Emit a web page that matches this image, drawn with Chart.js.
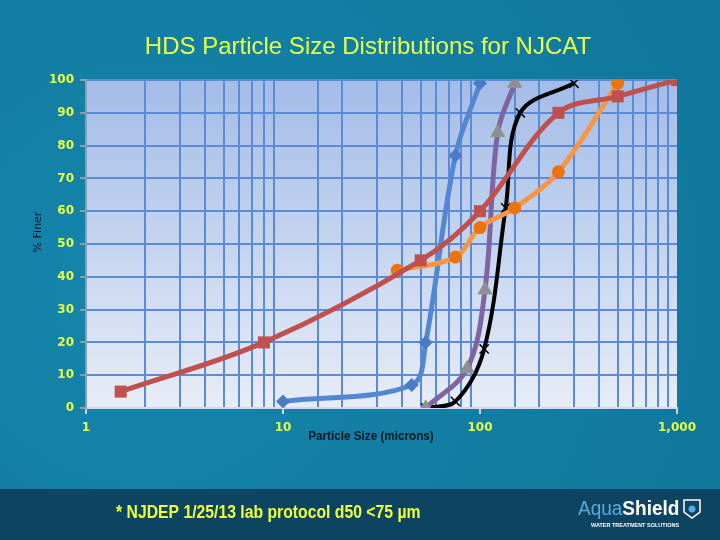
<!DOCTYPE html>
<html>
<head>
<meta charset="utf-8">
<script src="https://cdn.jsdelivr.net/npm/chart.js@4"></script>
<style>
  html, body { margin: 0; padding: 0; background: #127a9f; }
  #wrap { width: 720px; height: 540px; }
</style>
</head>
<body>
<div id="wrap"><canvas id="psd" width="720" height="540"></canvas></div>
<script>
// ---------------- data ----------------
const blueSize = [10, 45, 53, 75, 100];
const blueFiner = [2, 7, 20, 77, 99];

const redSize = [1.5, 8, 50, 100, 250, 500, 1000];
const redFiner = [5, 20, 45, 60, 90, 95, 100];

const purpleSize = [53, 86, 106, 123, 150];
const purpleFiner = [0, 12, 36, 84, 99];

const blackSize = [53, 75, 105, 135, 160, 300];
const blackFiner = [0, 2, 18, 61, 90, 99];

const orangeSize = [38, 75, 100, 150, 250, 500];
const orangeFiner = [42, 46, 55, 61, 72, 99];

const xLabels = [1, 10, 100, 1000];
const yTicks = [0, 10, 20, 30, 40, 50, 60, 70, 80, 90, 100];

//---------------------- helpers -----------------------//
function toPoints(xs, ys) {
    return xs.map((x, i) => ({ x: x, y: ys[i] }));
}

const gridBlue = '#5b8bd5';
const tickYellow = '#e6ff45';

// draw text squeezed horizontally to fake a condensed face
function squeezed(ctx, text, x, y, sx, align) {
    ctx.save();
    ctx.translate(x, y);
    ctx.scale(sx, 1);
    ctx.textAlign = align;
    ctx.fillText(text, 0, 0);
    ctx.restore();
}

// slide background + plot gradient
const slideBg = {
    id: 'slideBg',
    beforeDraw(chart) {
        const ctx = chart.ctx;
        const a = chart.chartArea;
        ctx.save();
        let bg = ctx.createRadialGradient(120, 300, 20, 200, 280, 520);
        bg.addColorStop(0, '#1585ab');
        bg.addColorStop(1, '#11789d');
        ctx.fillStyle = bg;
        ctx.fillRect(0, 0, 720, 540);
        // dark band at the bottom
        ctx.fillStyle = '#0c4462';
        ctx.fillRect(0, 489, 720, 51);
        // plot area
        let g = ctx.createLinearGradient(0, a.top, 0, a.bottom);
        g.addColorStop(0, '#a3bce7');
        g.addColorStop(1, '#e7edf7');
        ctx.fillStyle = g;
        ctx.fillRect(a.left, a.top, a.right - a.left, a.bottom - a.top);
        ctx.restore();
    }
};

// texts around the chart
const slideText = {
    id: 'slideText',
    afterDraw(chart) {
        const ctx = chart.ctx;
        ctx.save();
        ctx.textBaseline = 'middle';

        ctx.fillStyle = '#e8ff4a';
        ctx.textAlign = 'center';
        ctx.font = '24px "Liberation Sans", Arial, sans-serif';
        ctx.fillText('HDS Particle Size Distributions for NJCAT', 368, 47);

        ctx.fillStyle = '#101820';
        ctx.font = 'bold 13px "Liberation Sans", sans-serif';
        squeezed(ctx, 'Particle Size (microns)', 371, 436, 0.9, 'center');

        ctx.save();
        ctx.translate(38, 232);
        ctx.rotate(-Math.PI / 2);
        ctx.textAlign = 'center';
        ctx.font = '11px "DejaVu Sans", sans-serif';
        ctx.fillText('% Finer', 0, 0);
        ctx.restore();

        ctx.fillStyle = '#eeff3c';
        ctx.font = 'bold 18px "Liberation Sans", sans-serif';
        squeezed(ctx, '* NJDEP 1/25/13 lab protocol d50 <75 \u00b5m', 116, 513, 0.875, 'left');

        // logo text
        ctx.textAlign = 'left';
        ctx.font = '20px "Liberation Sans", sans-serif';
        ctx.fillStyle = '#5aa8de';
        ctx.save();
        ctx.translate(578, 509);
        ctx.scale(0.95, 1);
        ctx.fillText('Aqua', 0, 0);
        let w = ctx.measureText('Aqua').width;
        ctx.font = 'bold 20px "Liberation Sans", sans-serif';
        ctx.fillStyle = '#ffffff';
        ctx.fillText('Shield', w, 0);
        ctx.restore();
        // small shield mark
        ctx.strokeStyle = '#ffffff';
        ctx.lineWidth = 1.5;
        ctx.beginPath();
        ctx.moveTo(684, 500);
        ctx.lineTo(700, 500);
        ctx.lineTo(700, 512);
        ctx.lineTo(692, 518);
        ctx.lineTo(684, 512);
        ctx.closePath();
        ctx.stroke();
        ctx.fillStyle = '#5aa8de';
        ctx.beginPath();
        ctx.arc(692, 509, 3.5, 0, Math.PI * 2);
        ctx.fill();
        ctx.fillStyle = '#ffffff';
        ctx.font = 'bold 5.5px "Liberation Sans", sans-serif';
        ctx.fillText('WATER TREATMENT SOLUTIONS', 591, 525);
        ctx.restore();
    }
};

function lineSet(label, xs, ys, color, shape, pColor, radius, width) {
    return {
        label: label,
        data: toPoints(xs, ys),
        borderColor: color,
        backgroundColor: pColor,
        pointBackgroundColor: pColor,
        pointBorderColor: pColor,
        pointBorderWidth: 0,
        pointStyle: shape,
        pointRadius: radius,
        pointHoverRadius: radius,
        borderWidth: width,
        tension: 0.35,
        fill: false
    };
}

new Chart(document.getElementById('psd'), {
    type: 'line',
    data: {
        datasets: [
            lineSet('Series 1', redSize, redFiner, '#c0504d', 'rect', '#c0504d', 8.5, 5),
            lineSet('Series 2', orangeSize, orangeFiner, '#f79646', 'circle', '#ec7410', 6.5, 5),
            lineSet('Series 3', blueSize, blueFiner, '#5487d2', 'rectRot', '#4a7cc6', 7, 5),
            Object.assign(lineSet('Series 4', purpleSize, purpleFiner, '#8064a2', 'triangle', '#8f8a9c', 8, 5),
                { pointBorderColor: '#86a070', pointBorderWidth: 1 }),
            Object.assign(lineSet('Series 5', blackSize, blackFiner, '#000000', 'crossRot', '#000000', 6.5, 4),
                { pointBorderWidth: 1.5 })
        ]
    },
    options: {
        responsive: false,
        animation: false,
        layout: { padding: { left: 46, right: 43, top: 80, bottom: 92 } },
        plugins: {
            legend: { display: false },
            title: { display: false },
            tooltip: { enabled: false }
        },
        scales: {
            x: {
                type: 'logarithmic',
                min: 1,
                max: 1000,
                afterFit: (s) => { s.height = 40; },
                grid: {
                    color: (c) => {
                        const v = c.tick ? c.tick.value : 0;
                        return xLabels.includes(v) ? 'rgba(0,0,0,0)' : gridBlue;
                    },
                    lineWidth: 2,
                    drawTicks: true,
                    tickColor: (c) => xLabels.includes(c.tick ? c.tick.value : 0) ? '#c8d5e2' : 'rgba(0,0,0,0)',
                    tickLength: 6
                },
                border: { color: '#d2dce8', width: 2 },
                ticks: {
                    autoSkip: false,
                    maxRotation: 0,
                    padding: 7,
                    color: tickYellow,
                    font: { family: '"DejaVu Sans", sans-serif', size: 12, weight: 'bold' },
                    callback: (v) => xLabels.includes(v) ? v.toLocaleString('en-US') : ''
                }
            },
            y: {
                min: 0,
                max: 100,
                afterFit: (s) => { s.width = 40; },
                afterBuildTicks: (s) => { s.ticks = yTicks.map((v) => ({ value: v })); },
                grid: {
                    color: gridBlue,
                    lineWidth: 2,
                    tickColor: '#8d9db0',
                    tickLength: 6
                },
                border: { color: '#8d9db0', width: 2 },
                ticks: {
                    padding: 6,
                    color: tickYellow,
                    font: { family: '"DejaVu Sans", sans-serif', size: 12, weight: 'bold' }
                }
            }
        }
    },
    plugins: [slideBg, slideText]
});
</script>
</body>
</html>
